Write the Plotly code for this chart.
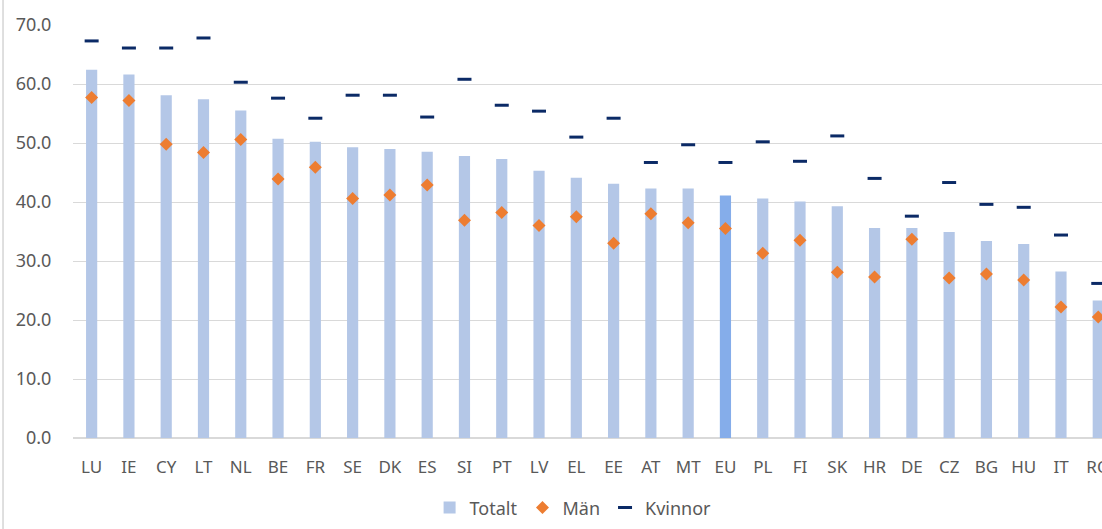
import plotly.graph_objects as go

countries = ["LU","IE","CY","LT","NL","BE","FR","SE","DK","ES","SI","PT","LV","EL","EE","AT","MT","EU","PL","FI","SK","HR","DE","CZ","BG","HU","IT","RO"]
totalt = [62.4,61.6,58.1,57.4,55.5,50.7,50.2,49.3,49.0,48.5,47.8,47.3,45.3,44.1,43.1,42.3,42.3,41.1,40.6,40.1,39.3,35.6,35.6,34.9,33.4,32.9,28.2,23.3]
man = [57.7,57.2,49.8,48.4,50.6,43.9,45.9,40.6,41.2,42.9,36.9,38.2,36.0,37.5,33.0,38.0,36.5,35.5,31.3,33.5,28.1,27.3,33.7,27.1,27.8,26.8,22.2,20.5]
kvinnor = [67.3,66.1,66.1,67.8,60.3,57.6,54.2,58.1,58.1,54.4,60.8,56.4,55.4,51.0,54.2,46.7,49.7,46.7,50.2,46.9,51.2,44.0,37.6,43.3,39.6,39.1,34.4,26.2]
y_ticks = [0, 10, 20, 30, 40, 50, 60, 70]

bar_colors = ["#85ADEA" if c == "EU" else "#B4C7E7" for c in countries]

fig = go.Figure()
fig.add_trace(go.Bar(x=countries, y=totalt, name="Totalt", marker=dict(color=bar_colors, line_width=0),
                     width=0.3))
fig.add_trace(go.Scatter(x=countries, y=man, name="Män", mode="markers",
                         marker=dict(symbol="diamond", size=10, color="#ED7D31")))
fig.add_trace(go.Scatter(x=countries, y=kvinnor, name="Kvinnor", mode="markers",
                         marker=dict(symbol="line-ew", size=10, line=dict(width=3, color="#0B2A66"), color="#0B2A66")))

font = dict(family="Noto Sans, Open Sans, sans-serif", size=17, color="#595959")
fig.update_layout(
    width=1102, height=529,
    margin=dict(l=73, r=0, t=25, b=91),
    paper_bgcolor="white", plot_bgcolor="white",
    font=font,
    showlegend=True,
    legend=dict(orientation="h", x=0.486, xanchor="center", y=-0.169, yanchor="middle",
                font=dict(size=18, color="#595959"), itemwidth=30),
)
fig.update_xaxes(range=[-0.5, 27.1], showgrid=False, showline=False, zeroline=False, automargin=False,
                 ticks="outside", ticklen=14, tickcolor="rgba(0,0,0,0)", tickfont=font)
fig.update_yaxes(range=[0, 70], tickvals=y_ticks, tickformat=".1f", showgrid=True, automargin=False,
                 gridcolor="#D9D9D9", gridwidth=1, zeroline=True, zerolinecolor="#D9D9D9",
                 showline=False, ticks="outside", ticklen=17, tickcolor="rgba(0,0,0,0)",
                 tickfont=dict(family="Noto Sans, Open Sans, sans-serif", size=18, color="#595959"))
fig.add_shape(type="line", xref="paper", yref="paper", x0=-0.068, x1=-0.068, y0=-0.25, y1=1.1,
              line=dict(color="#BFBFBF", width=1))

fig.write_html("out.html", config={"displayModeBar": False},
               post_script="document.body.style.margin='0px'; document.body.style.overflow='hidden';")
